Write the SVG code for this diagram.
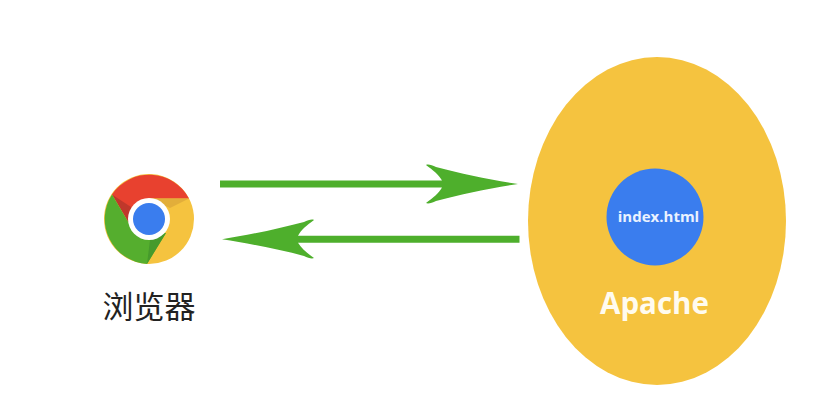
<svg xmlns="http://www.w3.org/2000/svg" width="839" height="420" viewBox="0 0 839 420">
<style>
.arrow{fill:#4EAF2C}
.sans{font-family:"Open Sans","Noto Sans",sans-serif;font-weight:700;text-anchor:middle}
.cjk{font-family:"Noto Sans CJK SC",sans-serif;font-size:31px;font-weight:400;fill:#222;text-anchor:middle}
</style>
<rect width="839" height="420" fill="#fff"/>
<g id="connectors">
<path class="arrow" d="M220 180.500H442C439 175 433 170 426 165C428 164 432 165 436 167C462 174 492 180 518 184C492 188 462 194 436 201C432 203 428 204 426 203C433 198 439 193 442 187.500H220Z"/>
<path class="arrow" d="M519.500 235.800H298C301 230 307 225 314 220C312 219 308 220 304 222C278 229 248 235 222 239.300C248 243.500 278 249 304 256C308 258 312 259 314 258C307 253 301 248 298 242.800H519.500Z"/>
</g>
<g id="browser">
<circle cx="149" cy="219" r="45" fill="#F5C33F"/>
<path fill="#E8412F" d="M112 194.500A45 45 0 0 1 189 198.500H149L131 221Z"/>
<path fill="#BF382B" d="M112 194.500L131 207L130 225Z"/>
<path fill="#E2AE3A" d="M189 198.500H149L170 208Z"/>
<path fill="#55AE2E" d="M112 194.500A45 45 0 0 0 147 263.900L166 233L140 234L130 225Z"/>
<path fill="#469A2C" d="M147 263.900L166 233L150 240Z"/>
<circle cx="149" cy="219" r="21" fill="#fff"/>
<circle cx="149" cy="219" r="16" fill="#3A7DEE"/>
<text class="cjk" x="149" y="318">浏览器</text>
</g>
<g id="apache">
<ellipse cx="657" cy="221" rx="129" ry="164" fill="#F5C33F"/>
<text class="sans" x="654.500" y="314" font-size="29.500" fill="#FFFBEF">Apache</text>
</g>
<g id="index">
<circle cx="655" cy="217" r="48.500" fill="#3A7DEE"/>
<text class="sans" x="658.500" y="221.500" font-size="15" fill="#EAF2FF">index.html</text>
</g>
</svg>
